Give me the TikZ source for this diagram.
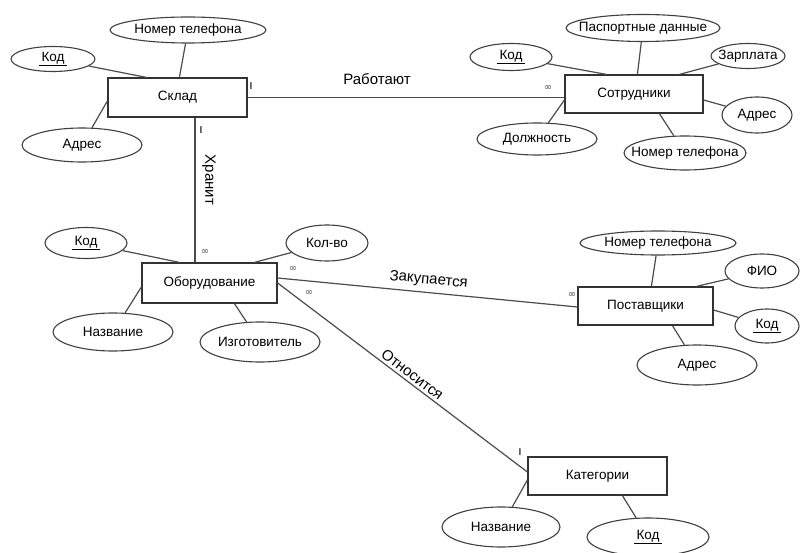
\documentclass[tikz,border=0pt]{standalone}
\usepackage{fontspec}
\setmainfont{Liberation Sans}
\newfontfamily\symfont{DejaVu Sans}
\usetikzlibrary{shapes.geometric}
\tikzset{
  entity/.style 2 args={draw=black!80, line width=1.2pt, rectangle, inner sep=0pt,
    minimum width=#1, minimum height=#2, font=\fontsize{13.5}{15}\selectfont},
  attr/.style n args={3}{draw=black!75, line width=1.1pt, ellipse, inner sep=0pt,
    minimum width=#1, minimum height=#2,
    label={[font=\fontsize{13.5}{15}\selectfont, inner sep=0pt]center:#3}},
  link/.style={draw=black!70, line width=1.2pt},
  rel/.style={font=\fontsize{15}{17}\selectfont, inner sep=0pt},
  infmark/.style={font=\symfont\fontsize{10}{10}\selectfont, text=black!70, inner sep=0pt},
  onemark/.style={font=\bfseries\fontsize{10}{11}\selectfont, text=black!75, inner sep=0pt},
}
\newcommand{\keyattr}[1]{\underline{\hspace{3pt}#1\hspace{3pt}}}
\begin{document}
\begin{tikzpicture}[x=1pt,y=-1pt]
\useasboundingbox[fill=white] (0,0) rectangle (800,553);

% entities
\node[entity={139pt}{39pt}] (sklad) at (177.5,97.5) {Склад};
\node[entity={138pt}{38pt}] (sotr) at (634,94) {Сотрудники};
\node[entity={135pt}{40pt}] (obor) at (209.5,283) {Оборудование};
\node[entity={135pt}{38pt}] (post) at (645.5,306) {Поставщики};
\node[entity={139pt}{38pt}] (kat) at (597.5,476) {Категории};

% attributes: Склад
\node[attr={156pt}{26pt}{Номер телефона}] (sktel) at (188,30) {};
\node[attr={84pt}{25pt}{\keyattr{Код}}] (skkod) at (53,59) {};
\node[attr={120pt}{34pt}{Адрес}] (skadr) at (82,145) {};
% attributes: Сотрудники
\node[attr={154pt}{27pt}{Паспортные данные}] (sopasp) at (643,28) {};
\node[attr={82pt}{27pt}{\keyattr{Код}}] (sokod) at (511,57) {};
\node[attr={74pt}{25pt}{Зарплата}] (sozarp) at (748,56) {};
\node[attr={70pt}{36pt}{Адрес}] (soadr) at (757,115) {};
\node[attr={120pt}{32pt}{Должность}] (sodol) at (537,139) {};
\node[attr={122pt}{34pt}{Номер телефона}] (sotel) at (685,153) {};
% attributes: Оборудование
\node[attr={82pt}{31pt}{\keyattr{Код}}] (obkod) at (86,243) {};
\node[attr={82pt}{36pt}{Кол-во}] (obkol) at (327,243) {};
\node[attr={120pt}{38pt}{Название}] (obnaz) at (113,332) {};
\node[attr={120pt}{40pt}{Изготовитель}] (obizg) at (260,342) {};
% attributes: Поставщики
\node[attr={156pt}{24pt}{Номер телефона}] (potel) at (658,243) {};
\node[attr={74pt}{34pt}{ФИО}] (pofio) at (762,271) {};
\node[attr={64pt}{34pt}{\keyattr{Код}}] (pokod) at (767,326) {};
\node[attr={120pt}{40pt}{Адрес}] (poadr) at (697,365) {};
% attributes: Категории
\node[attr={118pt}{40pt}{Название}] (kanaz) at (501,527) {};
\node[attr={122pt}{38pt}{\keyattr{Код}}] (kakod) at (648,537) {};

% attribute links
\draw[link] (skkod) -- ([xshift=39pt]sklad.north west);
\draw[link] (sktel) -- ([xshift=72pt]sklad.north west);
\draw[link] (skadr) -- ([yshift=-3.5pt]sklad.west);

\draw[link] (sokod) -- ([xshift=42pt]sotr.north west);
\draw[link] (sopasp) -- ([xshift=73pt]sotr.north west);
\draw[link] (sozarp) -- ([xshift=115pt]sotr.north west);
\draw[link] (soadr) -- ([yshift=-6pt]sotr.east);
\draw[link] (sotel) -- ([xshift=95pt]sotr.south west);
\draw[link] (sodol) -- ([yshift=-6pt]sotr.west);

\draw[link] (obkod) -- ([xshift=38pt]obor.north west);
\draw[link] (obkol) -- ([xshift=113pt]obor.north west);
\draw[link] (obnaz) -- ([yshift=-4pt]obor.west);
\draw[link] (obizg) -- ([xshift=93pt]obor.south west);

\draw[link] (potel) -- ([xshift=74pt]post.north west);
\draw[link] (pofio) -- ([xshift=119pt]post.north west);
\draw[link] (pokod) -- ([yshift=-4pt]post.east);
\draw[link] (poadr) -- ([xshift=95pt]post.south west);

\draw[link] (kanaz) -- ([yshift=-4pt]kat.west);
\draw[link] (kakod) -- ([xshift=95pt]kat.south west);

% relationships
\draw[link] (sklad.east) -- (sklad.east -| sotr.west);
\node[rel] (lwork) at (377,79) {Работают};

\coordinate (hr) at ([xshift=17.5pt]sklad.south);
\draw[link] (hr) -- (hr |- obor.north);
\node[rel, rotate=-90] (lkeep) at (209,180) {Хранит};

\draw[link] ([yshift=5pt]obor.east) -- node[rel, sloped, pos=0.5, above=5pt] (lbuy) {Закупается} ([yshift=-1pt]post.west);
\draw[link] (obor.east) -- node[rel, sloped, pos=0.52, above=2.5pt] (lcat) {Относится} ([yshift=4pt]kat.west);

% cardinality marks
\node[onemark] (m1) at (251,86) {I};
\node[onemark] (m2) at (201,130) {I};
\node[onemark] (m3) at (520,452) {I};
\node[infmark] (m4) at (548,88) {∞};
\node[infmark] (m5) at (205,252) {∞};
\node[infmark] (m6) at (293,269) {∞};
\node[infmark] (m7) at (309,293) {∞};
\node[infmark] (m8) at (572,295) {∞};
\end{tikzpicture}
\end{document}
